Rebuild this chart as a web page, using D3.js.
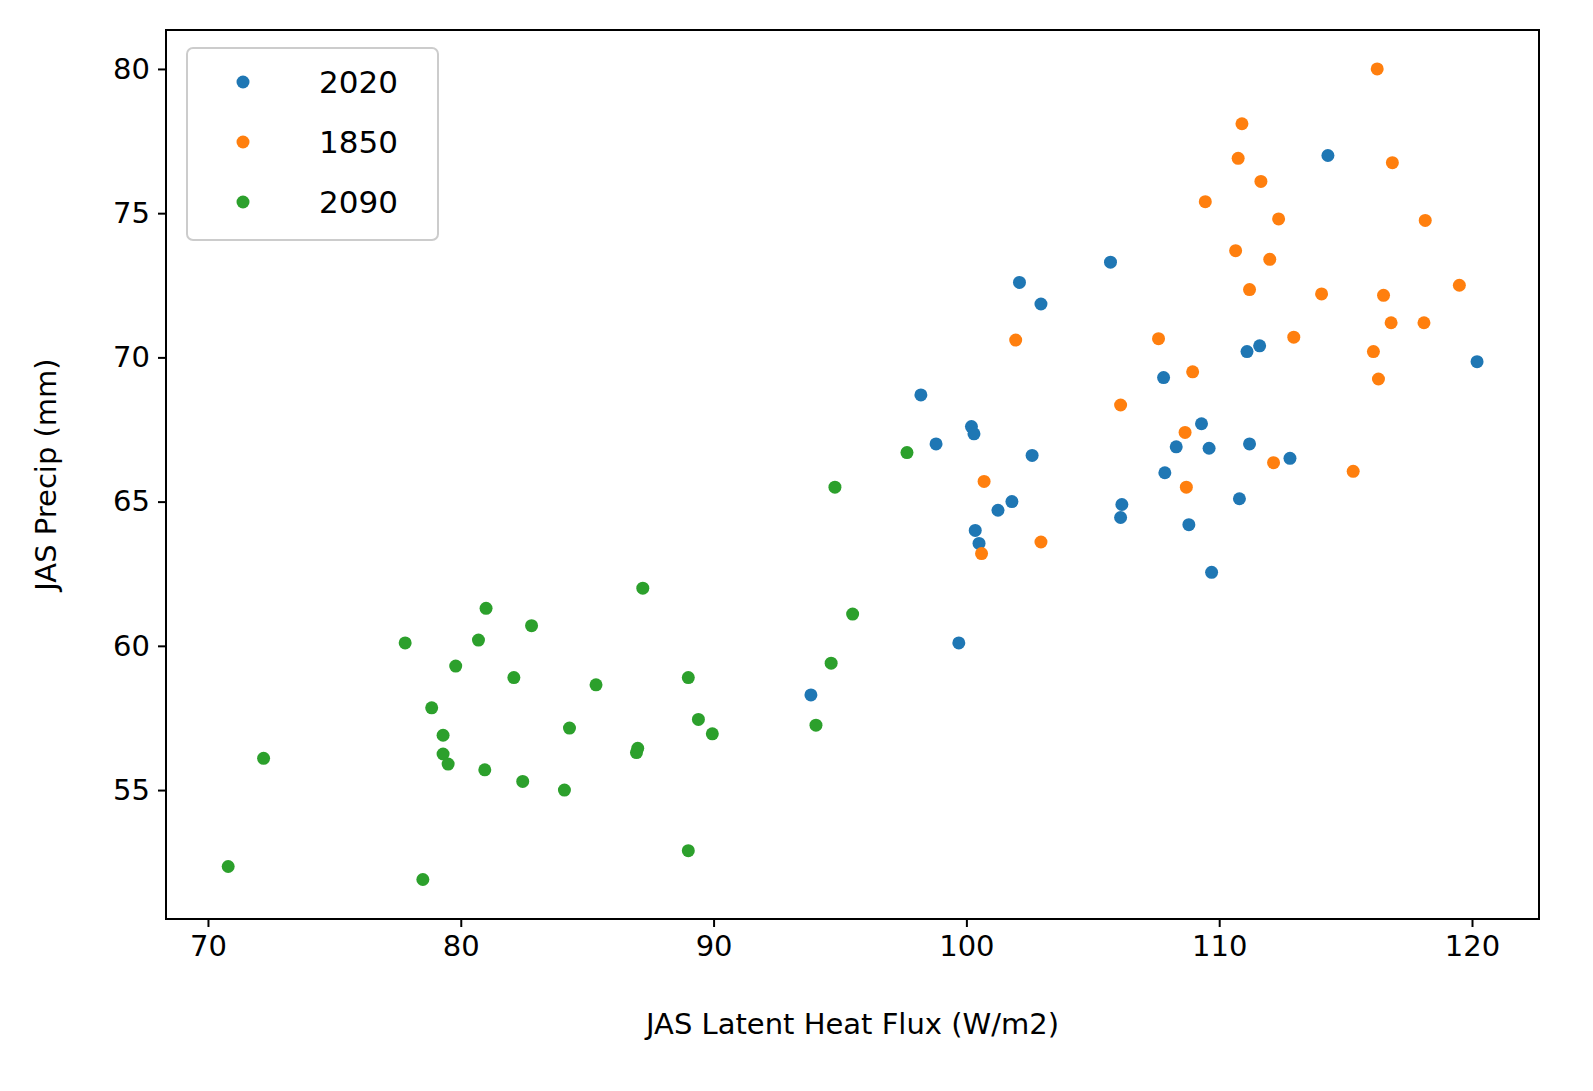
<!DOCTYPE html>
<html><head><meta charset="utf-8">
<script src="https://cdn.jsdelivr.net/npm/d3@7"></script>
<style>html,body{margin:0;background:#fff;overflow:hidden}svg{display:block}text{font-family:"DejaVu Sans",sans-serif}</style>
</head><body><div id="chart"></div>
<script>
// [x, y] pairs per series
const s2020 = [[114.3,77.0],[105.7,73.3],[102.1,72.6],[102.95,71.85],[120.2,69.85],[111.6,70.4],[111.1,70.2],[98.2,68.7],[107.8,69.3],[98.8,67.0],[100.2,67.6],[100.3,67.35],[109.3,67.7],[108.3,66.9],[109.6,66.85],[111.2,67.0],[112.8,66.5],[102.6,66.6],[107.85,66.0],[101.8,65.0],[101.25,64.7],[106.15,64.9],[106.1,64.45],[110.8,65.1],[100.35,64.0],[100.5,63.55],[108.8,64.2],[109.7,62.55],[99.7,60.1],[93.85,58.3]];
const s1850 = [[116.25,80.0],[110.9,78.1],[110.75,76.9],[116.85,76.75],[111.65,76.1],[109.45,75.4],[112.35,74.8],[118.15,74.75],[110.65,73.7],[112.0,73.4],[119.5,72.5],[111.2,72.35],[114.05,72.2],[116.5,72.15],[116.8,71.2],[118.1,71.2],[101.95,70.6],[107.6,70.65],[112.95,70.7],[116.1,70.2],[116.3,69.25],[108.95,69.5],[106.1,68.35],[108.65,67.4],[112.15,66.35],[115.3,66.05],[100.7,65.7],[108.7,65.5],[102.95,63.6],[100.6,63.2]];
const s2090 = [[97.65,66.7],[94.8,65.5],[87.2,62.0],[81.0,61.3],[82.8,60.7],[95.5,61.1],[77.8,60.1],[80.7,60.2],[79.8,59.3],[89.0,58.9],[82.1,58.9],[94.65,59.4],[85.35,58.65],[78.85,57.85],[89.4,57.45],[89.95,56.95],[84.3,57.15],[94.05,57.25],[79.3,56.9],[87.0,56.45],[86.95,56.3],[79.3,56.25],[79.5,55.9],[72.2,56.1],[80.95,55.7],[82.45,55.3],[84.1,55.0],[89.0,52.9],[70.8,52.35],[78.5,51.9]];
const seriesNames = ["2020","1850","2090"];
const seriesColors = ["#1f77b4","#ff7f0e","#2ca02c"];
const xTicks = [70,80,90,100,110,120];
const yTicks = [55,60,65,70,75,80];

const W = 1593, H = 1091;
const m = {l:166, r:1539, t:30, b:919};
const svg = d3.select("#chart").append("svg").attr("width",W).attr("height",H);
const x = d3.scaleLinear().domain([68.34,122.65]).range([m.l,m.r]);
const y = d3.scaleLinear().domain([50.53,81.35]).range([m.b,m.t]);

const xAxis = svg.append("g").attr("transform",`translate(0,${m.b})`)
  .call(d3.axisBottom(x).tickValues(xTicks).tickSize(8).tickPadding(8));
const yAxis = svg.append("g").attr("transform",`translate(${m.l},0)`)
  .call(d3.axisLeft(y).tickValues(yTicks).tickSize(8).tickPadding(8));
[xAxis,yAxis].forEach(a=>{
  a.select(".domain").remove();
  a.selectAll("text").style("font-size","29px").attr("fill","#000");
  a.selectAll("line").attr("stroke","#000").attr("stroke-width",2);
});

[s2020,s1850,s2090].forEach((s,i)=>{
  svg.append("g").selectAll("circle").data(s).join("circle")
    .attr("cx",d=>x(d[0])).attr("cy",d=>y(d[1])).attr("r",6.5)
    .attr("fill",seriesColors[i]);
});

svg.append("rect").attr("x",m.l).attr("y",m.t).attr("width",m.r-m.l).attr("height",m.b-m.t)
  .attr("fill","none").attr("stroke","#000").attr("stroke-width",2);

svg.append("text").attr("x",(m.l+m.r)/2).attr("y",1034).attr("text-anchor","middle")
  .style("font-size","29px").text("JAS Latent Heat Flux (W/m2)");
svg.append("text").attr("transform",`translate(56,${(m.t+m.b)/2}) rotate(-90)`).attr("text-anchor","middle")
  .style("font-size","29px").text("JAS Precip (mm)");

const lg = svg.append("g");
lg.append("rect").attr("x",187).attr("y",48).attr("width",251).attr("height",192).attr("rx",6)
  .attr("fill","#fff").attr("fill-opacity",0.8).attr("stroke","#ccc").attr("stroke-width",2);
seriesNames.forEach((n,i)=>{
  const cy = 82 + i*60;
  lg.append("circle").attr("cx",243).attr("cy",cy).attr("r",6.5).attr("fill",seriesColors[i]);
  lg.append("text").attr("x",319).attr("y",cy+11).style("font-size",
    "31px").text(n);
});
</script></body></html>
